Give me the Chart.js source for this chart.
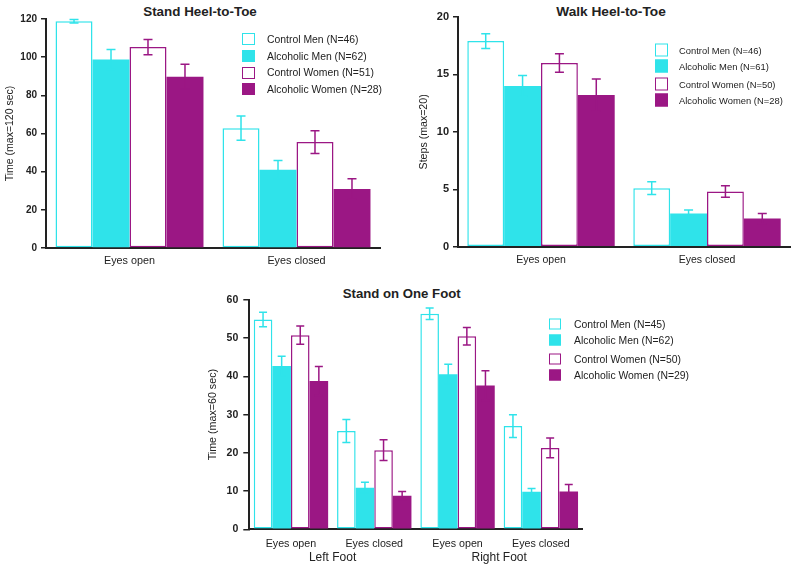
<!DOCTYPE html>
<html>
<head>
<meta charset="utf-8">
<script src="https://cdn.jsdelivr.net/npm/chart.js@4/dist/chart.umd.min.js"></script>
<style>
  body { margin: 0; background: #fff; font-family: "Liberation Sans", Arial, sans-serif; color: #222; }
  #page { position: relative; width: 800px; height: 569px; overflow: hidden; }
  canvas { position: absolute; }
  .ttl { position: absolute; transform: translate(-50%, -50%); font-weight: bold; white-space: nowrap; line-height: 1; }
  .leg-row { position: absolute; display: flex; align-items: center; white-space: nowrap; transform: translateY(-50%); }
  .sw { box-sizing: border-box; flex: none; }
</style>
</head>
<body>
<div id="page">
  <div class="ttl" id="t1"></div>
  <div class="ttl" id="t2"></div>
  <div class="ttl" id="t3"></div>
  <canvas id="c1" width="400" height="275" style="left:0;top:0"></canvas>
  <canvas id="c2" width="400" height="275" style="left:400px;top:0"></canvas>
  <canvas id="c3" width="400" height="289" style="left:200px;top:280px"></canvas>
  <div id="legends"></div>
</div>
<script>
// Grupos (mismo orden en los tres paneles)
const GROUP_NAMES = ["Control Men", "Alcoholic Men", "Control Women", "Alcoholic Women"];

// Stand Heel-to-Toe (segundos, max 120)
const HT_TITLE = "Stand Heel-to-Toe";
const HT_LABELS = ["Eyes open", "Eyes closed"];
const HT_N = [46, 62, 51, 28];
const HT_MEANS = [[118.8, 62.8], [98.8, 41.0], [105.3, 55.5], [89.8, 30.9]];
const HT_ERRS = [[0.9, 6.4], [5.2, 4.8], [4.0, 6.0], [6.5, 5.4]];

// Walk Heel-to-Toe (pasos, max 20)
const WT_TITLE = "Walk Heel-to-Toe";
const WT_LABELS = ["Eyes open", "Eyes closed"];
const WT_N = [46, 61, 50, 28];
const WT_MEANS = [[17.9, 5.1], [14.0, 2.9], [16.0, 4.8], [13.2, 2.45]];
const WT_ERRS = [[0.65, 0.55], [0.9, 0.3], [0.8, 0.5], [1.4, 0.45]];

// Stand on One Foot (segundos, max 60)
const OF_TITLE = "Stand on One Foot";
const OF_LABELS = ["Eyes open", "Eyes closed", "Eyes open", "Eyes closed"];
const OF_FEET = ["Left Foot", "Right Foot"];
const OF_N = [45, 62, 50, 29];
const OF_MEANS = [[54.9, 25.7, 56.4, 27.0], [42.7, 10.9, 40.6, 9.8], [50.8, 20.7, 50.5, 21.3], [38.8, 8.8, 37.6, 9.9]];
const OF_ERRS = [[1.9, 3.0, 1.5, 3.0], [2.6, 1.4, 2.6, 0.9], [2.4, 2.7, 2.3, 2.6], [3.8, 1.1, 3.9, 1.8]];

const FONT = '"Liberation Sans", Arial, sans-serif';
const INK = "#222";
const CYAN = "#2fe3ea";
const PURPLE = "#9b1784";
const GROUP_COLORS = [CYAN, CYAN, PURPLE, PURPLE];
const GROUP_FILLED = [false, true, false, true];

// barras de error: trazo vertical + topes, mismo color que la serie
const errorBars = {
  id: "errorBars",
  afterDatasetsDraw(chart, args, opts) {
    const { ctx } = chart;
    const y = chart.scales.y;
    chart.data.datasets.forEach((ds, i) => {
      const meta = chart.getDatasetMeta(i);
      ctx.save();
      ctx.strokeStyle = ds.borderColor;
      ctx.lineWidth = opts.width;
      meta.data.forEach((bar, j) => {
        const v = ds.data[j];
        const e = ds.errors[j];
        const top = y.getPixelForValue(v + e);
        const bot = y.getPixelForValue(v - e);
        ctx.beginPath();
        ctx.moveTo(bar.x, top); ctx.lineTo(bar.x, bot);
        ctx.moveTo(bar.x - opts.cap, top); ctx.lineTo(bar.x + opts.cap, top);
        ctx.moveTo(bar.x - opts.cap, bot); ctx.lineTo(bar.x + opts.cap, bot);
        ctx.stroke();
      });
      ctx.restore();
    });
  },
};

function drawPanel(canvasId, p) {
  const datasets = GROUP_NAMES.map((name, g) => ({
    label: name,
    data: p.means[g],
    errors: p.errs[g],
    backgroundColor: GROUP_FILLED[g] ? GROUP_COLORS[g] : "#ffffff",
    borderColor: GROUP_COLORS[g],
    borderWidth: GROUP_FILLED[g] ? 0 : 1.5,
    borderSkipped: false,
    barPercentage: 1,
    categoryPercentage: p.catPct,
  }));

  const scales = {
    x: {
      type: "category",
      weight: 0,
      ticks: { color: INK, padding: p.xPad, font: { family: FONT, size: p.xFont } },
      grid: { display: false, drawTicks: false },
      border: { color: INK, width: 2 },
      afterFit(s) { s.height = p.xH; },
    },
    y: {
      min: 0,
      max: p.yMax,
      ticks: { stepSize: p.yStep, color: INK, padding: p.tickPad, font: { family: FONT, size: p.yFont, weight: "bold" } },
      grid: { drawOnChartArea: false, drawTicks: true, tickLength: p.tickLen, color: INK, lineWidth: 1.5 },
      border: { color: INK, width: 2 },
      title: { display: true, text: p.yTitle, color: INK, font: { family: FONT, size: p.yTitleFont }, padding: { top: p.yTitlePad, bottom: 0 } },
      afterFit(s) { s.width = p.axisW; },
    },
  };
  if (p.feet) {
    // segunda fila de etiquetas: pie izquierdo / derecho
    scales.x2 = {
      type: "category",
      position: "bottom",
      weight: 1,
      labels: p.feet,
      offset: true,
      ticks: { color: INK, padding: p.x2Pad, font: { family: FONT, size: p.x2Font } },
      grid: { display: false, drawTicks: false },
      border: { display: false },
      afterFit(s) { s.height = p.x2H; },
    };
  }

  return new Chart(document.getElementById(canvasId), {
    type: "bar",
    data: { labels: p.labels, datasets },
    options: {
      responsive: false,
      animation: false,
      devicePixelRatio: 1,
      layout: { padding: { left: 0, top: p.top, right: p.right, bottom: 0 } },
      scales,
      plugins: {
        legend: { display: false },
        title: { display: false },
        tooltip: { enabled: false },
        errorBars: { width: 1.5, cap: p.cap },
      },
    },
    plugins: [errorBars],
  });
}

function setTitle(id, text, x, y, size) {
  const el = document.getElementById(id);
  el.textContent = text;
  el.style.left = x + "px";
  el.style.top = y + "px";
  el.style.fontSize = size + "px";
}

function buildLegend(nValues, lay) {
  const host = document.getElementById("legends");
  GROUP_NAMES.forEach((name, g) => {
    const row = document.createElement("div");
    row.className = "leg-row";
    row.style.left = lay.x + "px";
    row.style.top = lay.rows[g] + "px";
    row.style.fontSize = lay.font + "px";
    const sw = document.createElement("span");
    sw.className = "sw";
    sw.style.width = lay.w + "px";
    sw.style.height = lay.h + "px";
    sw.style.marginRight = lay.gap + "px";
    sw.style.border = "1.5px solid " + GROUP_COLORS[g];
    sw.style.background = GROUP_FILLED[g] ? GROUP_COLORS[g] : "#fff";
    const tx = document.createElement("span");
    tx.textContent = `${name} (N=${nValues[g]})`;
    row.appendChild(sw);
    row.appendChild(tx);
    host.appendChild(row);
  });
}

drawPanel("c1", {
  labels: HT_LABELS, means: HT_MEANS, errs: HT_ERRS,
  yMax: 120, yStep: 20, yTitle: "Time (max=120 sec)",
  top: 19, right: 20, axisW: 46, xH: 27,
  catPct: 0.886, cap: 4.5,
  xFont: 10.8, xPad: 7, yFont: 10, tickPad: 4, tickLen: 5,
  yTitleFont: 10.5, yTitlePad: 4,
});

drawPanel("c2", {
  labels: WT_LABELS, means: WT_MEANS, errs: WT_ERRS,
  yMax: 20, yStep: 5, yTitle: "Steps (max=20)",
  top: 17, right: 10, axisW: 58, xH: 28.3,
  catPct: 0.888, cap: 4.5,
  xFont: 10.5, xPad: 7, yFont: 11, tickPad: 4, tickLen: 5,
  yTitleFont: 10.6, yTitlePad: 17.5,
});

drawPanel("c3", {
  labels: OF_LABELS, feet: OF_FEET, means: OF_MEANS, errs: OF_ERRS,
  yMax: 60, yStep: 10, yTitle: "Time (max=60 sec)",
  top: 20, right: 17.5, axisW: 49.3, xH: 21, x2H: 18.7,
  catPct: 0.893, cap: 4,
  xFont: 10.7, xPad: 8, x2Font: 12, x2Pad: 0,
  yFont: 10.5, tickPad: 5, tickLen: 6,
  yTitleFont: 10.7, yTitlePad: 7,
});

setTitle("t1", HT_TITLE, 200, 12, 13.4);
setTitle("t2", WT_TITLE, 611, 12, 13.7);
setTitle("t3", OF_TITLE, 401.7, 294, 13.2);

buildLegend(HT_N, { x: 242, rows: [39, 56, 72.5, 89], w: 13, h: 12, gap: 12, font: 10.4 });
buildLegend(WT_N, { x: 655, rows: [49.7, 66, 84, 100], w: 13, h: 13, gap: 11, font: 9.4 });
buildLegend(OF_N, { x: 549, rows: [323.5, 340, 358.5, 374.5], w: 12, h: 11, gap: 13, font: 10.4 });
</script>
</body>
</html>
